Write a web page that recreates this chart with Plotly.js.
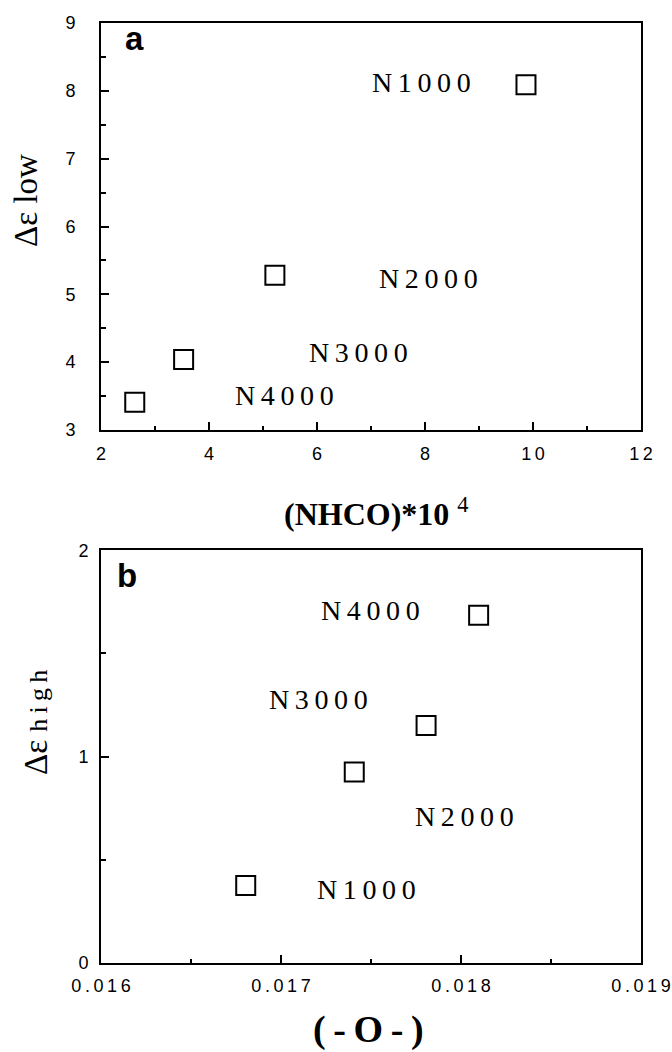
<!DOCTYPE html>
<html>
<head>
<meta charset="utf-8">
<script src="https://cdn.plot.ly/plotly-3.0.1.min.js"></script>
<style>html,body{margin:0;padding:0;background:#fff;}#chart{width:672px;height:1052px;}</style>
</head>
<body>
<div id="chart"></div>
<script>
// ---- data ----
const sampleNames = ['N1000', 'N2000', 'N3000', 'N4000'];

// panel a: (NHCO)*10^4 vs Δε low
const nhco = [9.87, 5.22, 3.53, 2.625];
const epsLow = [8.09, 5.28, 4.04, 3.41];
const labelAX = [7.93, 8.07, 6.77, 5.40];
const labelAY = [8.13, 5.24, 4.14, 3.51];

// panel b: (-O-) vs Δε high
const ether = [0.016804, 0.017407, 0.017806, 0.018098];
const epsHigh = [0.375, 0.926, 1.151, 1.685];
const labelBX = [0.017474, 0.018018, 0.017211, 0.017497];
const labelBY = [0.356, 0.711, 1.277, 1.706];

// tick labels
const xTicksA = [2, 4, 6, 8, 10, 12];
const xMinorA = [3, 5, 7, 9, 11];
const yTicksA = [3, 4, 5, 6, 7, 8, 9];
const yMinorA = [3.5, 4.5, 5.5, 6.5, 7.5, 8.5];
const xTicksB = [0.016, 0.017, 0.018, 0.019];
const xTickTextB = ['0.016', '0.017', '0.018', '0.019'];
const xMinorB = [0.0165, 0.0175, 0.0185];
const yTicksB = [0, 1, 2];
const yMinorB = [0.5, 1.5];

// ---- helpers ----
const TS = '\u2009';
const spaced = s => s.split('').join(TS);
const W = 672, H = 1052;
const M = {l: 101, r: 31, t: 23, b: 89};
const px = x => (x - M.l) / (W - M.l - M.r);
const py = y => (H - M.b - y) / (H - M.t - M.b);

const serif = 'Liberation Serif, Times New Roman, serif';
const sans = 'Liberation Sans, Arial, sans-serif';

const marker = {symbol: 'square-open', size: 19, color: '#000', line: {width: 2, color: '#000'}};

const traces = [
  {x: nhco, y: epsLow, type: 'scatter', mode: 'markers', marker: marker, xaxis: 'x', yaxis: 'y', hoverinfo: 'skip'},
  {x: ether, y: epsHigh, type: 'scatter', mode: 'markers', marker: marker, xaxis: 'x2', yaxis: 'y2', hoverinfo: 'skip'}
];

const annotations = [];
sampleNames.forEach((n, i) => {
  annotations.push({x: labelAX[i], y: labelAY[i], xref: 'x', yref: 'y', text: spaced(n), showarrow: false,
    font: {family: serif, size: 28, color: '#000'}, xanchor: 'center', yanchor: 'middle'});
  annotations.push({x: labelBX[i], y: labelBY[i], xref: 'x2', yref: 'y2', text: spaced(n), showarrow: false,
    font: {family: serif, size: 28, color: '#000'}, xanchor: 'center', yanchor: 'middle'});
});
// panel letters
annotations.push({x: px(123), y: py(38), xref: 'paper', yref: 'paper', text: '<b>a</b>', showarrow: false,
  font: {family: sans, size: 33, color: '#000'}, xanchor: 'left', yanchor: 'middle'});
annotations.push({x: px(115), y: py(575), xref: 'paper', yref: 'paper', text: '<b>b</b>', showarrow: false,
  font: {family: sans, size: 33, color: '#000'}, xanchor: 'left', yanchor: 'middle'});
// axis titles
annotations.push({x: px(376), y: py(512), xref: 'paper', yref: 'paper', text: '<b>(NHCO)*10</b> <sup>4</sup>', showarrow: false,
  font: {family: serif, size: 32, color: '#000'}, xanchor: 'center', yanchor: 'middle'});
annotations.push({x: px(368), y: py(1029), xref: 'paper', yref: 'paper', text: '<b>' + spaced('(-O-)') + '</b>', showarrow: false,
  font: {family: serif, size: 38, color: '#000'}, xanchor: 'center', yanchor: 'middle'});
annotations.push({x: px(26), y: py(201), xref: 'paper', yref: 'paper', text: '\u0394\u03b5 low', showarrow: false, textangle: -90,
  font: {family: serif, size: 33, color: '#000'}, xanchor: 'center', yanchor: 'middle'});
annotations.push({x: px(36), y: py(723), xref: 'paper', yref: 'paper', text: '\u0394\u03b5 <span style="font-size:26px">' + spaced('high') + '</span>', showarrow: false, textangle: -90,
  font: {family: serif, size: 33, color: '#000'}, xanchor: 'center', yanchor: 'middle'});

const axisBase = {
  showline: true, linewidth: 2, linecolor: '#000', mirror: true,
  showgrid: false, zeroline: false,
  ticks: 'inside', ticklen: 8, tickwidth: 2, tickcolor: '#000',
  tickfont: {family: sans, size: 18, color: '#000'},
  fixedrange: true
};

const layout = {
  width: W, height: H,
  margin: M,
  paper_bgcolor: '#fff', plot_bgcolor: '#fff',
  showlegend: false,
  xaxis: Object.assign({}, axisBase, {
    domain: [0, 1], anchor: 'y', range: [2, 12], tickmode: 'array', tickvals: xTicksA,
    ticktext: xTicksA.map(v => spaced(String(v))), ticklabelstandoff: 6,
    minor: {tickmode: 'array', tickvals: xMinorA, ticks: 'inside', ticklen: 4, tickwidth: 2, tickcolor: '#000', showgrid: false}
  }),
  yaxis: Object.assign({}, axisBase, {
    domain: [py(430), 1], anchor: 'x', range: [3, 9], tickmode: 'array', tickvals: yTicksA,
    ticktext: yTicksA.map(String), ticklabelstandoff: 20,
    minor: {tickmode: 'array', tickvals: yMinorA, ticks: 'inside', ticklen: 5, tickwidth: 2, tickcolor: '#000', showgrid: false}
  }),
  xaxis2: Object.assign({}, axisBase, {
    domain: [0, 1], anchor: 'y2', range: [0.016, 0.019], tickmode: 'array', tickvals: xTicksB,
    ticktext: xTickTextB.map(spaced), ticklabelstandoff: 5,
    minor: {tickmode: 'array', tickvals: xMinorB, ticks: 'inside', ticklen: 4, tickwidth: 2, tickcolor: '#000', showgrid: false}
  }),
  yaxis2: Object.assign({}, axisBase, {
    domain: [0, py(550.3)], anchor: 'x2', range: [0, 2], tickmode: 'array', tickvals: yTicksB,
    ticktext: yTicksB.map(String), ticklabelstandoff: 7,
    minor: {tickmode: 'array', tickvals: yMinorB, ticks: 'inside', ticklen: 5, tickwidth: 2, tickcolor: '#000', showgrid: false}
  }),
  annotations: annotations
};

Plotly.newPlot('chart', traces, layout, {displayModeBar: false, staticPlot: true});
</script>
</body>
</html>
